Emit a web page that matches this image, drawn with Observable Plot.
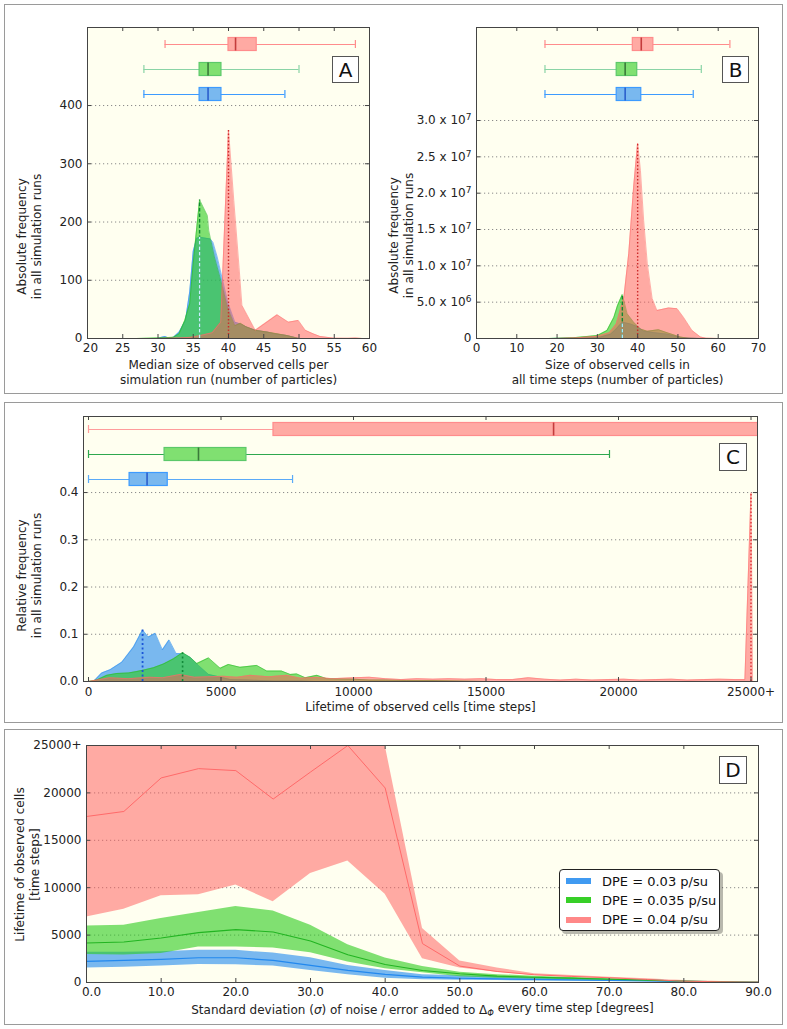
<!DOCTYPE html>
<html>
<head>
<meta charset="utf-8">
<script src="https://cdn.jsdelivr.net/npm/d3@7"></script>
<script src="https://cdn.jsdelivr.net/npm/@observablehq/plot@0.6"></script>
<style>
  html, body { margin: 0; padding: 0; background: #ffffff; }
  #root { position: relative; width: 787px; height: 1029px; overflow: hidden; font-family: "DejaVu Sans", sans-serif; color: #222; }
  .frame { position: absolute; border: 1.5px solid #9a9a9a; box-sizing: border-box; }
  .slot { position: absolute; }
  .letter { position: absolute; box-sizing: border-box; background: #fff; border: 1.5px solid #555; font-size: 20px; line-height: 1; display: flex; align-items: center; justify-content: center; color: #111; }
  .legend { position: absolute; box-sizing: border-box; background: #fff; border: 1.3px solid #222; border-radius: 4px; box-shadow: 3px 3px 0 rgba(0,0,0,0.28); font-size: 13px; color: #111; }
  .legend .row { position: absolute; left: 0; height: 18px; display: flex; align-items: center; white-space: nowrap; }
  .legend .sw { width: 25px; height: 6px; margin-left: 6px; margin-right: 11px; }
</style>
</head>
<body>
<div id="root"></div>
<script>
// ---------------- DATA ----------------
const seriesNames = ["DPE = 0.03 p/su", "DPE = 0.035 p/su", "DPE = 0.04 p/su"];

// Panel A: median size of observed cells per simulation run
const aXTicks = [20, 25, 30, 35, 40, 45, 50, 55, 60];
const aYTicks = [0, 100, 200, 300, 400];
const aBlueX  = [28, 30, 30.5, 31, 31.5, 32.2, 33, 33.9, 34.5, 35, 35.5, 35.9, 37.4, 37.8, 38.4, 38.9, 39.9, 40.9, 41.7, 42.5, 43.8, 45.5, 46.5, 48.3, 50, 52];
const aBlueY  = [0, 0, 2, 3.5, 1, 2, 11, 31, 80, 150, 172, 174, 171, 165, 140, 114, 62, 28, 25, 20, 14, 11, 8, 5, 0, 0];
const aGreenX = [27, 30, 32.2, 33, 33.8, 34.5, 35, 35.5, 35.9, 37, 37.2, 38, 38.9, 39.9, 40.9, 41.7, 42.5, 43.8, 45.5, 48.3, 50, 52];
const aGreenY = [0, 1, 2, 8, 31, 60, 130, 190, 238, 211, 185, 140, 100, 51, 22, 26, 20, 14, 11, 5, 0, 0];
const aRedX   = [30, 33, 34.6, 36, 37.7, 38.9, 40, 40.75, 41.5, 41.9, 43.8, 46.9, 48.5, 49.9, 50.9, 52, 53, 55, 57, 58, 59];
const aRedY   = [0, 1, 2, 5, 10, 28, 358, 237, 122, 57, 14, 40.6, 28, 31, 14, 8, 3.4, 0.5, 0.3, 0.8, 0];
const aMedianX = [35.9, 35.9, 40];                  // blue, green, red
const aBoxBlue  = [28, 35.9, 37.1, 39, 48];         // lo, q1, median, q3, hi
const aBoxGreen = [28, 35.9, 37.1, 39, 50];
const aBoxRed   = [31, 40, 41, 44, 58];

// Panel B: size of observed cells in all time steps (values x 10^6)
const bXTicks = [0, 10, 20, 30, 40, 50, 60, 70];
const bYTicks = [0, 5e6, 1e7, 1.5e7, 2e7, 2.5e7, 3e7];
const bYTickLabels = ["0", "5.0 x 10^6", "1.0 x 10^7", "1.5 x 10^7", "2.0 x 10^7", "2.5 x 10^7", "3.0 x 10^7"];
const bBlueX  = [18, 25, 30, 30.8, 33.3, 34.5, 36.2, 38.2, 39.9, 41.5, 44.8, 47.3, 50.6, 53, 56];
const bBlueY  = [0, 0.05, 0.15, 0.2, 0.6, 1.2, 2.25, 2.0, 1.65, 1.0, 0.75, 0.6, 0.15, 0.05, 0];
const bGreenX = [18, 24, 30, 32.4, 34.1, 35, 36.2, 37.4, 39, 40.7, 42.4, 45.2, 47.3, 50.6, 52.5, 55];
const bGreenY = [0, 0.1, 0.4, 1.1, 2.9, 4.5, 6.05, 3.4, 2.25, 1.3, 1.0, 1.2, 0.8, 0.2, 0.05, 0];
const bRedX   = [20, 25, 30, 33, 34.7, 36.6, 37.8, 39, 40, 40.7, 41.5, 42.4, 43.6, 44.8, 46, 47.7, 49.8, 51.4, 53.5, 55.6, 57, 60];
const bRedY   = [0, 0.1, 0.3, 0.8, 2.0, 5.7, 11.7, 20.8, 26.9, 23.1, 16.2, 10.3, 5.5, 3.85, 4.0, 4.2, 4.1, 2.9, 1.1, 0.2, 0.05, 0];
const bMedianX = [36.2, 36.2, 40];
const bBoxBlue  = [17, 34.8, 36.9, 40.9, 53.8];
const bBoxGreen = [17, 34.8, 36.9, 39.9, 55.8];
const bBoxRed   = [17, 38.8, 40.9, 43.9, 62.9];

// Panel C: lifetime of observed cells
const cXTicks = [0, 5000, 10000, 15000, 20000, 25000];
const cXTickLabels = ["0", "5000", "10000", "15000", "20000", "25000+"];
const cYTicks = [0, 0.1, 0.2, 0.3, 0.4];
const cBlueX  = [0, 190, 500, 820, 1260, 1700, 2040, 2260, 2520, 2790, 3040, 3310, 3580, 3840, 4150, 4530, 4840, 5350, 6000, 7000, 8000, 8500];
const cBlueY  = [0, 0, 0.018, 0.025, 0.041, 0.073, 0.109, 0.094, 0.102, 0.067, 0.088, 0.059, 0.059, 0.051, 0.034, 0.015, 0.011, 0.004, 0.003, 0.001, 0.001, 0];
const cGreenX = [0, 310, 690, 1070, 1510, 1820, 2140, 2450, 2830, 3210, 3550, 3840, 4090, 4530, 4970, 5280, 5720, 6350, 6730, 7290, 7610, 7860, 8180, 8620, 8990, 10000, 10600, 11200, 12000, 13000, 14000, 15000];
const cGreenY = [0, 0.003, 0.013, 0.017, 0.018, 0.021, 0.025, 0.029, 0.037, 0.048, 0.061, 0.051, 0.038, 0.050, 0.028, 0.036, 0.030, 0.034, 0.022, 0.022, 0.015, 0.016, 0.008, 0.013, 0.006, 0.005, 0.003, 0.003, 0.002, 0.002, 0.001, 0];
const cRedX   = [0, 300, 800, 1500, 2300, 2800, 3460, 4000, 4500, 5090, 5600, 6100, 6800, 7490, 8000, 8600, 9200, 10000, 10600, 11200, 11800, 12400, 13000, 13600, 14200, 14800, 15400, 16000, 16600, 17200, 17800, 18400, 19000, 19600, 20200, 20800, 21400, 22000, 22600, 23200, 23800, 24400, 24770, 25000, 25060];
const cRedY   = [0, 0.003, 0.008, 0.006, 0.009, 0.008, 0.015, 0.009, 0.010, 0.011, 0.009, 0.013, 0.010, 0.013, 0.007, 0.009, 0.006, 0.008, 0.009, 0.006, 0.004, 0.006, 0.005, 0.006, 0.005, 0.006, 0.004, 0.004, 0.008, 0.005, 0.003, 0.005, 0.003, 0.004, 0.005, 0.003, 0.004, 0.005, 0.003, 0.004, 0.005, 0.004, 0.004, 0.40, 0];
const cMedianX = [2040, 3550, 25000];
const cBoxBlue  = [0, 1550, 2210, 2990, 7700];
const cBoxGreen = [0, 2870, 4150, 5960, 19660];
const cBoxRed   = [0, 6980, 17550, 26000, 26000];

// Panel D: lifetime vs noise
const dSigma = [0, 5, 10, 15, 20, 25, 30, 35, 40, 45, 50, 55, 60, 65, 70, 75, 80, 85, 90];
const dXTicks = [0, 10, 20, 30, 40, 50, 60, 70, 80, 90];
const dYTicks = [0, 5000, 10000, 15000, 20000, 25000];
const dYTickLabels = ["0", "5000", "10000", "15000", "20000", "25000+"];
const dBlueLo  = [1520, 1620, 1730, 1910, 1880, 1730, 1270, 815, 460, 285, 250, 200, 170, 140, 110, 80, 50, 20, 5];
const dBlueMed = [2220, 2330, 2440, 2610, 2610, 2330, 1800, 1270, 850, 565, 450, 380, 320, 270, 220, 170, 100, 50, 10];
const dBlueHi  = [3200, 3200, 3250, 3390, 3390, 3100, 2600, 1800, 1270, 815, 700, 600, 500, 420, 350, 280, 150, 70, 20];
const dGreenLo  = [2950, 2900, 3050, 3740, 3740, 3630, 3150, 2150, 1450, 1030, 600, 450, 380, 300, 250, 180, 100, 50, 10];
const dGreenMed = [4170, 4270, 4700, 5260, 5580, 5330, 4370, 2930, 1900, 1270, 920, 670, 560, 460, 350, 250, 140, 70, 20];
const dGreenHi  = [5970, 6040, 6750, 7380, 8020, 7550, 6040, 3990, 2580, 1700, 1090, 830, 670, 530, 420, 280, 140, 70, 20];
const dRedLo  = [6920, 7730, 9140, 9250, 10280, 8510, 11510, 12820, 9320, 2510, 1520, 1090, 740, 560, 460, 320, 180, 70, 20];
const dRedMed = [17510, 18040, 21580, 22560, 22350, 19350, 22200, 25000, 20520, 4100, 1730, 1160, 815, 640, 500, 320, 140, 70, 30];
const dRedHi  = [25000, 25000, 25000, 25000, 25000, 25000, 25000, 25000, 25000, 5690, 2260, 1520, 920, 740, 560, 390, 210, 100, 0];

// ---------------- STYLE ----------------
const BG = "#fffff0", AXC = "#444", TXT = "#222";
const ST = {
  blue:  {fill: "#1f88ee", alpha: 0.6, line: "#2f8ff0", whisker: "#3d9bff", edge: "#3d9bff", median: "#2b5fcc"},
  green: {fill: "#2ccc1c", alpha: 0.6, line: "#28b828", whisker: "#8ad4a6", edge: "#5cc86a", median: "#3a7a3a"},
  red:   {fill: "#ff5555", alpha: 0.5, line: "#ff7070", whisker: "#ff8c8c", edge: "#ff8c8c", median: "#c43c3c"}
};

const zip = (xs, ys, k = 1) => xs.map((x, i) => ({x, y: ys[i] * k}));
const boxOf = a => ({lo: a[0], q1: a[1], med: a[2], q3: a[3], hi: a[4]});
const heightAt = (xs, ys, x, k = 1) => ys[xs.indexOf(x)] * k;

function boxMarks(arr, rowPx, vpx, yTop, st, whisker, clip = false) {
  const yc = yTop - rowPx * vpx, hb = 6.5 * vpx, hc = 4 * vpx;
  const d = [boxOf(arr)];
  const w = whisker || st.whisker;
  return [
    Plot.ruleY(d, {x1: "lo", x2: "q1", y: () => yc, stroke: w, strokeWidth: 1.2, clip}),
    Plot.ruleY(d, {x1: "q3", x2: "hi", y: () => yc, stroke: w, strokeWidth: 1.2, clip}),
    Plot.ruleX(d, {x: "lo", y1: () => yc - hc, y2: () => yc + hc, stroke: w, strokeWidth: 1.2, clip}),
    Plot.ruleX(d, {x: "hi", y1: () => yc - hc, y2: () => yc + hc, stroke: w, strokeWidth: 1.2, clip}),
    Plot.rect(d, {x1: "q1", x2: "q3", y1: () => yc - hb, y2: () => yc + hb, fill: st.fill, fillOpacity: st.alpha, stroke: st.edge, strokeWidth: 1.2, clip}),
    Plot.ruleX(d, {x: "med", y1: () => yc - hb, y2: () => yc + hb, stroke: st.median, strokeWidth: 1.6, clip})
  ];
}

function densityMarks(data, st) {
  return [
    Plot.areaY(data, {x: "x", y: "y", fill: st.fill, fillOpacity: st.alpha}),
    Plot.line(data, {x: "x", y: "y", stroke: st.line, strokeOpacity: 0.55, strokeWidth: 1})
  ];
}

function makePanel(o) {
  const plotW = o.width - o.mL - o.mR, plotH = o.height - o.mT - o.mB;
  const [x0, x1] = o.xDomain, [y0, y1] = o.yDomain;
  const upx = (x1 - x0) / plotW, vpx = (y1 - y0) / plotH;
  const t = 4;
  const marks = [
    Plot.frame({fill: BG, stroke: null}),
    Plot.ruleY(o.grid, {stroke: "#8a8a8a", strokeDasharray: "1.2,2.8", strokeWidth: 1}),
    ...o.marks(upx, vpx, y1),
    Plot.ruleX(o.xTicks, {y1: y0, y2: y0 + t * vpx, stroke: AXC}),
    Plot.ruleX(o.xTicks, {y1: y1, y2: y1 - t * vpx, stroke: AXC}),
    Plot.ruleY(o.yTicks, {x1: x0, x2: x0 + t * upx, stroke: AXC}),
    Plot.ruleY(o.yTicks, {x1: x1, x2: x1 - t * upx, stroke: AXC}),
    Plot.frame({stroke: AXC, strokeWidth: 1}),
    Plot.text([o.yLabel], {text: d => d, frameAnchor: "left", textAnchor: "middle", lineAnchor: "middle", rotate: -90, dx: o.yLabelDx, dy: o.yLabelDy, lineHeight: 1.25, fontSize: 12, fill: TXT}),
    Plot.text([o.xLabel], {text: d => d, frameAnchor: "bottom", textAnchor: "middle", lineAnchor: "middle", dy: o.xLabelDy, lineHeight: 1.3, fontSize: 12, fill: TXT})
  ];
  return Plot.plot({
    width: o.width, height: o.height,
    marginLeft: o.mL, marginRight: o.mR, marginTop: o.mT, marginBottom: o.mB,
    x: {domain: o.xDomain, ticks: o.xTicks, tickFormat: o.xFmt, tickSize: 0, tickPadding: o.xPad || 5, label: null},
    y: {domain: o.yDomain, ticks: o.yTicks, tickFormat: o.yFmt, tickSize: 0, tickPadding: 5, label: null},
    style: {background: "transparent", fontFamily: "DejaVu Sans, sans-serif", fontSize: "12px", color: TXT, overflow: "visible"},
    marks
  });
}

function nudgeTickLabel(svg, label, dx) {
  svg.querySelectorAll("text").forEach(t => {
    if (t.textContent === label && !t.querySelector("tspan")) t.setAttribute("dx", dx);
  });
}

const root = document.getElementById("root");
function addDiv(cls, left, top, w, h, html) {
  const d = document.createElement("div");
  d.className = cls;
  d.style.left = left + "px"; d.style.top = top + "px";
  if (w != null) d.style.width = w + "px";
  if (h != null) d.style.height = h + "px";
  if (html != null) d.innerHTML = html;
  root.appendChild(d);
  return d;
}
function place(svg, left, top) {
  const d = addDiv("slot", left, top);
  d.appendChild(svg);
  return svg;
}

// frames
addDiv("frame", 4, 4, 779, 390);
addDiv("frame", 4, 402, 779, 321);
addDiv("frame", 4, 729, 779, 296);

// ---------------- PANEL A ----------------
const svgA = makePanel({
  width: 393, height: 395, mL: 87, mR: 24, mT: 27, mB: 57,
  xDomain: [20, 60], yDomain: [0, 534],
  xTicks: aXTicks, yTicks: aYTicks, grid: aYTicks.filter(v => v > 0),
  xFmt: d => String(d), yFmt: d => String(d),
  yLabel: "Absolute frequency\nin all simulation runs", yLabelDx: -58.5, yLabelDy: 53.5,
  xLabel: "Median size of observed cells per\nsimulation run (number of particles)", xLabelDy: 33,
  marks: (upx, vpx, yTop) => [
    ...densityMarks(zip(aBlueX, aBlueY), ST.blue),
    ...densityMarks(zip(aGreenX, aGreenY), ST.green),
    ...densityMarks(zip(aRedX, aRedY), ST.red),
    Plot.ruleX([{x: aMedianX[1], h: heightAt(aGreenX, aGreenY, aMedianX[1])}], {x: "x", y1: 0, y2: "h", stroke: "#118833", strokeWidth: 1.4, strokeDasharray: "3.5,2"}),
    Plot.ruleX([{x: aMedianX[0], h: heightAt(aBlueX, aBlueY, aMedianX[0])}], {x: "x", y1: 0, y2: "h", stroke: "#c8f0ff", strokeWidth: 1.4, strokeDasharray: "3.5,2"}),
    Plot.ruleX([{x: aMedianX[2], h: heightAt(aRedX, aRedY, aMedianX[2])}], {x: "x", y1: 0, y2: "h", stroke: "#cc2a2a", strokeWidth: 1.4, strokeDasharray: "1.5,2"}),
    ...boxMarks(aBoxRed, 17, vpx, yTop, ST.red),
    ...boxMarks(aBoxGreen, 42, vpx, yTop, ST.green),
    ...boxMarks(aBoxBlue, 67, vpx, yTop, ST.blue)
  ]
});
place(svgA, 0, 0);
nudgeTickLabel(svgA, "20", 3);

// ---------------- PANEL B ----------------
const svgB = makePanel({
  width: 407, height: 395, mL: 96, mR: 29, mT: 27, mB: 57,
  xDomain: [0, 70], yDomain: [0, 4.28e7],
  xTicks: bXTicks, yTicks: bYTicks, grid: bYTicks.filter(v => v > 0),
  xFmt: d => String(d), yFmt: d => bYTickLabels[bYTicks.indexOf(d)],
  yLabel: "Absolute frequency\nin all simulation runs", yLabelDx: -75.5, yLabelDy: 52.5,
  xLabel: "Size of observed cells in\nall time steps (number of particles)", xLabelDy: 33,
  marks: (upx, vpx, yTop) => [
    ...densityMarks(zip(bBlueX, bBlueY, 1e6), ST.blue),
    ...densityMarks(zip(bGreenX, bGreenY, 1e6), ST.green),
    ...densityMarks(zip(bRedX, bRedY, 1e6), ST.red),
    Plot.ruleX([{x: bMedianX[1], h: heightAt(bGreenX, bGreenY, bMedianX[1], 1e6)}], {x: "x", y1: 0, y2: "h", stroke: "#118833", strokeWidth: 1.4, strokeDasharray: "3.5,2"}),
    Plot.ruleX([{x: bMedianX[0], h: heightAt(bBlueX, bBlueY, bMedianX[0], 1e6)}], {x: "x", y1: 0, y2: "h", stroke: "#a8e8ff", strokeWidth: 1.4, strokeDasharray: "3.5,2"}),
    Plot.ruleX([{x: bMedianX[2], h: heightAt(bRedX, bRedY, bMedianX[2], 1e6)}], {x: "x", y1: 0, y2: "h", stroke: "#cc2a2a", strokeWidth: 1.4, strokeDasharray: "1.5,2"}),
    ...boxMarks(bBoxRed, 17, vpx, yTop, ST.red),
    ...boxMarks(bBoxGreen, 42, vpx, yTop, ST.green),
    ...boxMarks(bBoxBlue, 67, vpx, yTop, ST.blue)
  ]
});
place(svgB, 380, 0);
// superscripts for B tick labels
svgB.querySelectorAll("text").forEach(t => {
  if (t.querySelector("tspan")) return;
  const m = t.textContent.match(/^(.*)\^(\d+)$/);
  if (m) {
    t.textContent = m[1];
    const ts = document.createElementNS("http://www.w3.org/2000/svg", "tspan");
    ts.setAttribute("dy", "-0.45em");
    ts.setAttribute("font-size", "75%");
    ts.textContent = m[2];
    t.appendChild(ts);
  }
});

// ---------------- PANEL C ----------------
const svgC = makePanel({
  width: 787, height: 327, mL: 83, mR: 30, mT: 18, mB: 44,
  xDomain: [-189, 25245], yDomain: [0, 0.561],
  xTicks: cXTicks, yTicks: cYTicks, grid: cYTicks.filter(v => v > 0), xPad: 6,
  xFmt: d => cXTickLabels[cXTicks.indexOf(d)], yFmt: d => d.toFixed(1),
  yLabel: "Relative frequency\nin all simulation runs", yLabelDx: -54.5, yLabelDy: 26.5,
  xLabel: "Lifetime of observed cells [time steps]", xLabelDy: 24,
  marks: (upx, vpx, yTop) => [
    ...densityMarks(zip(cBlueX, cBlueY), ST.blue),
    ...densityMarks(zip(cGreenX, cGreenY), ST.green),
    ...densityMarks(zip(cRedX, cRedY), ST.red),
    Plot.ruleX([{x: cMedianX[0], h: heightAt(cBlueX, cBlueY, cMedianX[0])}], {x: "x", y1: 0, y2: "h", stroke: "#1a55d8", strokeWidth: 1.8, strokeDasharray: "2,2.5"}),
    Plot.ruleX([{x: cMedianX[1], h: heightAt(cGreenX, cGreenY, cMedianX[1])}], {x: "x", y1: 0, y2: "h", stroke: "#128a3a", strokeWidth: 1.6, strokeDasharray: "2,2.5"}),
    Plot.ruleX([{x: cMedianX[2], h: heightAt(cRedX, cRedY, cMedianX[2])}], {x: "x", y1: 0, y2: "h", stroke: "#dd3333", strokeWidth: 1.4, strokeDasharray: "1.5,2"}),
    ...boxMarks(cBoxRed, 13, vpx, yTop, ST.red, "#ff9c9c", true),
    ...boxMarks(cBoxGreen, 38, vpx, yTop, ST.green, "#2ea84f"),
    ...boxMarks(cBoxBlue, 63, vpx, yTop, ST.blue, "#5aaaf8")
  ]
});
place(svgC, 0, 398);

// ---------------- PANEL D ----------------
const dRows = dSigma.map((s, i) => ({
  s,
  blo: dBlueLo[i], bmed: dBlueMed[i], bhi: dBlueHi[i],
  glo: dGreenLo[i], gmed: dGreenMed[i], ghi: dGreenHi[i],
  rlo: dRedLo[i], rmed: dRedMed[i], rhi: dRedHi[i]
}));
const dXLabel = "Standard deviation (σ) of noise / error added to Δ_Φ every time step [degrees]";
const svgD = makePanel({
  width: 787, height: 304, mL: 86, mR: 29, mT: 20, mB: 47,
  xDomain: [0, 90], yDomain: [0, 25000],
  xTicks: dXTicks, yTicks: dYTicks, grid: dYTicks.filter(v => v > 0 && v < 25000),
  xFmt: d => d.toFixed(1), yFmt: d => dYTickLabels[dYTicks.indexOf(d)],
  yLabel: "Lifetime of observed cells\n[time steps]", yLabelDx: -59.5, yLabelDy: 0.5,
  xLabel: dXLabel, xLabelDy: 26,
  marks: () => [
    Plot.areaY(dRows, {x: "s", y1: "blo", y2: "bhi", fill: ST.blue.fill, fillOpacity: ST.blue.alpha}),
    Plot.line(dRows, {x: "s", y: "bmed", stroke: "#2288ee", strokeWidth: 1.2}),
    Plot.areaY(dRows, {x: "s", y1: "glo", y2: "ghi", fill: ST.green.fill, fillOpacity: ST.green.alpha}),
    Plot.line(dRows, {x: "s", y: "gmed", stroke: "#22b422", strokeWidth: 1.1}),
    Plot.areaY(dRows, {x: "s", y1: "rlo", y2: "rhi", fill: ST.red.fill, fillOpacity: ST.red.alpha, clip: true}),
    Plot.line(dRows, {x: "s", y: "rmed", stroke: "#ff6a6a", strokeWidth: 1, clip: true})
  ]
});
place(svgD, 0, 725);
nudgeTickLabel(svgD, "0.0", 5);
svgD.querySelectorAll("text").forEach(t => {
  if (t.textContent === dXLabel) {
    const ns = "http://www.w3.org/2000/svg";
    t.textContent = "";
    const parts = [
      ["Standard deviation (", {}],
      ["σ", {"font-style": "italic"}],
      [") of noise / error added to Δ", {}],
      ["Φ", {"font-style": "italic", "font-size": "70%", "dy": "0.3em"}],
      [" every time step [degrees]", {"dy": "-0.3em"}]
    ];
    for (const [s, attrs] of parts) {
      const ts = document.createElementNS(ns, "tspan");
      for (const k in attrs) ts.setAttribute(k, attrs[k]);
      ts.textContent = s;
      t.appendChild(ts);
    }
  }
});

// ---------------- ANNOTATIONS ----------------
addDiv("letter", 332, 56, 27, 27, "A");
addDiv("letter", 722, 56, 27, 27, "B");
addDiv("letter", 719, 443, 28, 28, "C");
addDiv("letter", 719, 756, 28, 28, "D");

const legend = addDiv("legend", 559, 869, 161, 62);
const legendColors = [
  {c: ST.blue.fill, a: 0.85},
  {c: ST.green.fill, a: 0.95},
  {c: ST.red.fill, a: 0.7}
];
const rowTops = [2, 21, 40.5];
seriesNames.forEach((name, i) => {
  const r = document.createElement("div");
  r.className = "row";
  r.style.top = rowTops[i] + "px";
  const sw = document.createElement("div");
  sw.className = "sw";
  sw.style.background = legendColors[i].c;
  sw.style.opacity = legendColors[i].a;
  const tx = document.createElement("span");
  tx.textContent = name;
  r.appendChild(sw); r.appendChild(tx);
  legend.appendChild(r);
});
</script>
</body>
</html>
